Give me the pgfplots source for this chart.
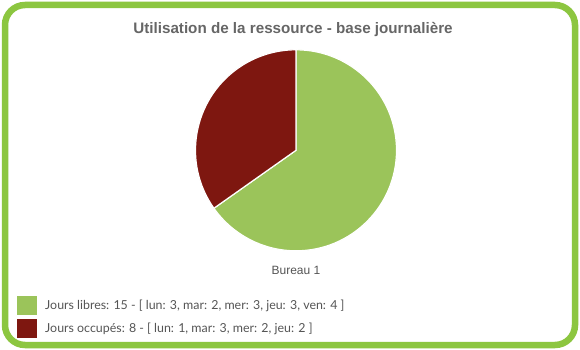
\documentclass[border=0pt]{standalone}
\usepackage{pgfplots}
\pgfplotsset{compat=1.18}
\usepackage{pgfplotstable}
\usepackage{fontspec}
\setmainfont{Lato}
\newfontfamily\helv{Liberation Sans}
\definecolor{bordergreen}{HTML}{8CC640}
\definecolor{piegreen}{HTML}{9BC45A}
\definecolor{piered}{HTML}{7E1710}
\definecolor{titlegray}{HTML}{666666}
\definecolor{textgray}{HTML}{555555}
\pgfplotstableread{
label value
libres 15
occupes 8
}\piedata
\begin{document}
\begin{tikzpicture}[x=1pt,y=-1pt]
\fill[white] (0,0) rectangle (580,350);
\draw[bordergreen, line width=6.5pt, rounded corners=20pt] (5,5) rectangle (575,345);
\node[font=\helv\bfseries\fontsize{15.2}{18}\selectfont, text=titlegray] at (293,30) {Utilisation de la ressource - base journalière};
\pgfplotstablegetelem{0}{value}\of\piedata \let\vA\pgfplotsretval
\pgfplotstablegetelem{1}{value}\of\piedata \let\vB\pgfplotsretval
\pgfmathsetmacro{\tot}{\vA+\vB}
\pgfmathsetmacro{\aEnd}{90-360*\vA/\tot}
\begin{axis}[at={(296pt,-150.3pt)}, anchor=center, scale only axis, width=201pt, height=201pt,
  xmin=-1, xmax=1, ymin=-1, ymax=1, hide axis, clip=false]
\fill[piegreen, draw=white, line width=1.2pt] (axis cs:0,0) -- (axis cs:0,1) arc[start angle=90, end angle=\aEnd, radius=100.5pt] -- cycle;
\fill[piered, draw=white, line width=1.2pt] (axis cs:0,0) -- (axis cs:{cos(\aEnd)},{sin(\aEnd)}) arc[start angle=\aEnd, end angle=-270, radius=100.5pt] -- cycle;
\end{axis}
\node[font=\helv\fontsize{12}{14}\selectfont, text=textgray] at (296,270) {Bureau 1};
\fill[piegreen] (17,296) rectangle (37,315);
\fill[piered] (17,319) rectangle (37,338);
\node[anchor=west, font=\fontsize{12.4}{15}\selectfont, text=textgray, inner sep=0pt] at (45,305.5) {Jours libres: 15 - [ lun: 3, mar: 2, mer: 3, jeu: 3, ven: 4 ]};
\node[anchor=west, font=\fontsize{12.4}{15}\selectfont, text=textgray, inner sep=0pt] at (45,328.5) {Jours occupés: 8 - [ lun: 1, mar: 3, mer: 2, jeu: 2 ]};
\end{tikzpicture}
\end{document}
